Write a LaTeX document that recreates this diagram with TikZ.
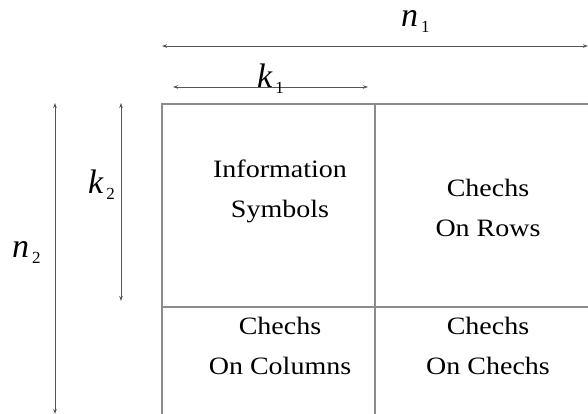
\documentclass[tikz,border=0pt]{standalone}
\usepackage{fontspec}
\setmainfont{Liberation Serif}
\usepackage{tikz}
\usetikzlibrary{arrows.meta, calc, positioning}
\definecolor{linegray}{HTML}{8C8C8C}
\definecolor{arrowgray}{HTML}{555555}
\newcommand{\dimsym}[2]{{\fontsize{34}{34}\selectfont\itshape #1}\hspace{3pt}\raisebox{-6pt}{\fontsize{17}{17}\selectfont #2}}
\newcommand{\wideline}[1]{\scalebox{1.12}[1]{#1}}

\begin{document}
\begin{tikzpicture}[x=1pt, y=-1pt,
    cell/.style={draw=linegray, line width=1.2pt, minimum width=#1, minimum height=203pt, inner sep=0pt, outer sep=0pt, anchor=north west},
    celltext/.style={align=center, font=\fontsize{25}{40}\selectfont},
    dimlabel/.style={inner sep=0pt, anchor=base west},
    dimarrow/.style={arrowgray, line width=0.9pt, {Stealth[length=5pt,width=3.5pt]}-{Stealth[length=5pt,width=3.5pt]}}]
    \useasboundingbox (0,0) rectangle (588,414);
    % cells
    \node[cell=213pt] (info) at (162,104) {};
    \node[cell=226pt] (rows) at (info.north east) {};
    \node[cell=213pt] (cols) at (info.south west) {};
    \node[cell=226pt] (chk) at (info.south east) {};
    \node[celltext] (infotext) at (280,191) {\wideline{Information}\\\wideline{Symbols}};
    \node[celltext] (rowstext) at (488,208) {\wideline{Chechs}\\\wideline{On Rows}};
    \node[celltext] (colstext) at (280,346) {\wideline{Chechs}\\\wideline{On Columns}};
    \node[celltext] (chktext) at (488,346) {\wideline{Chechs}\\\wideline{On Chechs}};

    % dimensions
    \coordinate (n1a) at (162,46);
    \coordinate (n1b) at (588,46);
    \coordinate (k1a) at (173,87);
    \coordinate (k1b) at (368,87);
    \coordinate (k2a) at (121,103);
    \coordinate (k2b) at (121,301);
    \coordinate (n2a) at (55,103);
    \coordinate (n2b) at (55,414);
    \draw[dimarrow] (n1a) -- (n1b);
    \draw[dimarrow] (k1a) -- (k1b);
    \draw[dimarrow] (k2a) -- (k2b);
    \draw[dimarrow] (n2a) -- (n2b);
    \node[dimlabel] (n1) at (401,27) {\dimsym{n}{1}};
    \node[dimlabel] (k1) at (257,88) {\dimsym{k}{1}};
    \node[dimlabel] (k2) at (88,193) {\dimsym{k}{2}};
    \node[dimlabel] (n2) at (12,257) {\dimsym{n}{2}};
\end{tikzpicture}
\end{document}
